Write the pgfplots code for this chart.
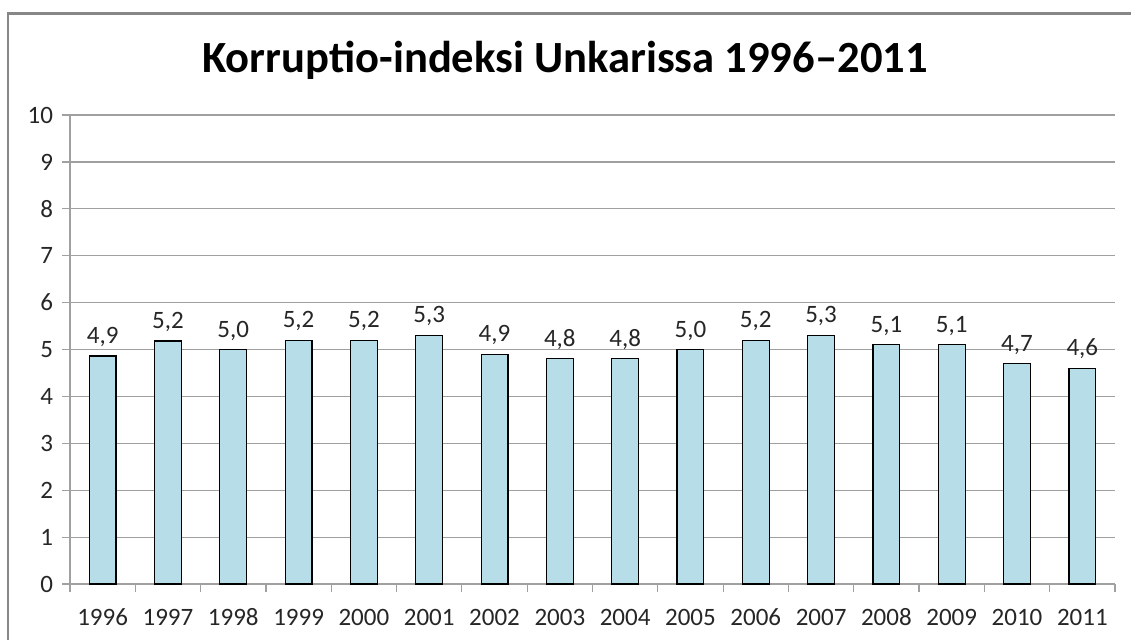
\documentclass[border=0pt]{standalone}
\usepackage{fontspec}
\setmainfont{Carlito}
\usepackage{pgfplots}
\usepackage{pgfplotstable}
\pgfplotsset{compat=1.18}
\definecolor{barblue}{HTML}{B7DDE8}
\definecolor{gridgray}{HTML}{A0A0A0}
\definecolor{framegray}{HTML}{878787}
\pgfplotstableread{
x y lab
0 4.86 4,9
1 5.18 5,2
2 5.0 5,0
3 5.2 5,2
4 5.2 5,2
5 5.3 5,3
6 4.9 4,9
7 4.8 4,8
8 4.8 4,8
9 5.0 5,0
10 5.2 5,2
11 5.3 5,3
12 5.1 5,1
13 5.1 5,1
14 4.7 4,7
15 4.6 4,6
}\datatable
\begin{document}
\begin{tikzpicture}
\begin{axis}[
  at={(35pt,27.5pt)}, anchor=south west,
  scale only axis, width=522.5pt, height=234.5pt,
  xmin=-0.5, xmax=15.5, ymin=0, ymax=10,
  axis x line*=bottom, axis y line*=left,
  axis line style={gridgray, line width=0.6pt},
  xtick={0,...,15},
  xticklabels={1996,1997,1998,1999,2000,2001,2002,2003,2004,2005,2006,2007,2008,2009,2010,2011},
  major x tick style={draw=none},
  minor xtick={-0.5,0.5,...,15.5},
  minor x tick style={gridgray, line width=0.6pt},
  minor tick length=4pt,
  ytick={0,...,10},
  major y tick style={gridgray, line width=0.6pt},
  major tick length=4pt,
  tick align=outside,
  ymajorgrids, grid style={gridgray, line width=0.6pt},
  /pgf/number format/assume math mode=true,
  ticklabel style={font=\fontsize{12.5}{14}\selectfont, text=black!85},
  xticklabel style={anchor=north, text height=1.6ex, text depth=0.3ex, yshift=-5.5pt},
  yticklabel style={xshift=-1pt},
  every axis plot/.append style={ybar, bar width=13.4pt, bar shift=0pt},
  nodes near coords, point meta=explicit symbolic,
  nodes near coords style={font=\fontsize{12.5}{14}\selectfont, text=black!85, yshift=1pt},
]
\addplot[fill=barblue, draw=black, line width=0.6pt] table[x=x, y=y, meta=lab] {\datatable};
\end{axis}
\pgfresetboundingbox
\useasboundingbox (0,0) rectangle (565.5pt,319.5pt);
\draw[framegray, line width=1.1pt] (4pt,-5pt) -- (4pt,312.75pt) -- (575pt,312.75pt);
\node[anchor=base, font=\fontsize{22.3}{26}\selectfont\bfseries] at (282.5pt,283.5pt) {Korruptio-indeksi Unkarissa 1996–2011};
\end{tikzpicture}
\end{document}
